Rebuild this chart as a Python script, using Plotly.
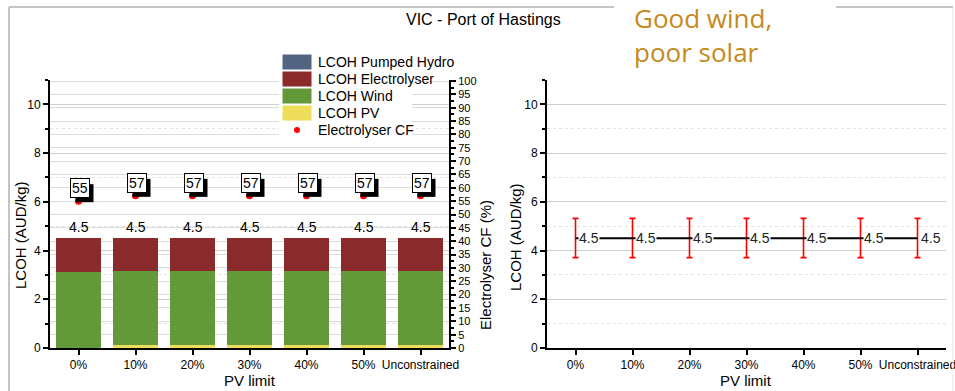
import plotly.graph_objects as go

W, H = 955, 391

# ---- data ----
pv_limits = ["0%", "10%", "20%", "30%", "40%", "50%", "Unconstrained"]
lcoh_pv = [0.0, 0.12, 0.12, 0.12, 0.12, 0.12, 0.12]
lcoh_wind = [3.13, 3.05, 3.05, 3.05, 3.05, 3.05, 3.05]
lcoh_electrolyser = [1.37, 1.33, 1.33, 1.33, 1.33, 1.33, 1.33]
lcoh_pumped_hydro = [0.0, 0.0, 0.0, 0.0, 0.0, 0.0, 0.0]
electrolyser_cf = [55, 57, 57, 57, 57, 57, 57]

lcoh_total = [4.5, 4.5, 4.5, 4.5, 4.5, 4.5, 4.5]
lcoh_err_plus = [0.82, 0.82, 0.82, 0.82, 0.82, 0.82, 0.82]
lcoh_err_minus = [0.79, 0.79, 0.79, 0.79, 0.79, 0.79, 0.79]

# ---- styles ----
FONT = "Liberation Sans, Arial, sans-serif"
C_PH = "#536483"
C_EL = "#8B2A2A"
C_WIND = "#64993A"
C_PV = "#EEDD5A"
C_CF = "#FF0000"


def px(x):
    return x / W


def py(y):
    return 1 - y / H


Y_DOM = [py(348), py(80)]
LEFT_DOM = [px(50), px(449)]
RIGHT_DOM = [px(547), px(946)]

fig = go.Figure()

# stacked LCOH bars
for name, vals, col in [
    ("LCOH PV", lcoh_pv, C_PV),
    ("LCOH Wind", lcoh_wind, C_WIND),
    ("LCOH Electrolyser", lcoh_electrolyser, C_EL),
    ("LCOH Pumped Hydro", lcoh_pumped_hydro, C_PH),
]:
    fig.add_trace(go.Bar(x=pv_limits, y=vals, name=name, marker_color=col,
                         marker_line_width=0, width=0.8, xaxis="x", yaxis="y",
                         showlegend=False))

# electrolyser capacity factor
fig.add_trace(go.Scatter(x=pv_limits, y=electrolyser_cf, mode="markers",
                         marker=dict(color=C_CF, size=7), name="Electrolyser CF",
                         xaxis="x", yaxis="y2", showlegend=False))

# total LCOH with range
fig.add_trace(go.Scatter(
    x=pv_limits, y=lcoh_total, mode="lines", line=dict(color="black", width=2),
    error_y=dict(type="data", symmetric=False, array=lcoh_err_plus,
                 arrayminus=lcoh_err_minus, color=C_CF, thickness=1.6, width=3),
    xaxis="x3", yaxis="y3", showlegend=False))

annotations = []
shapes = []

# totals above bars
for cat, tot in zip(pv_limits, [a + b + c + d for a, b, c, d in zip(
        lcoh_pv, lcoh_wind, lcoh_electrolyser, lcoh_pumped_hydro)]):
    annotations.append(dict(x=cat, y=tot, xref="x", yref="y", text=f"{tot:.1f}",
                            showarrow=False, yanchor="bottom", yshift=1,
                            font=dict(family=FONT, size=14, color="black")))

# CF labels: white tag with a black drop shadow
for i, cf in enumerate(electrolyser_cf):
    shapes.append(dict(type="rect", xref="x", yref="y2",
                       xsizemode="pixel", ysizemode="pixel", xanchor=i, yanchor=cf,
                       x0=-3, x1=15, y0=-1, y1=17, fillcolor="black", line_width=0,
                       layer="above"))
    annotations.append(dict(x=pv_limits[i], y=cf, xref="x", yref="y2", text=f"{cf}",
                            showarrow=False, xshift=1, yshift=13,
                            bgcolor="white", bordercolor="black", borderwidth=1,
                            borderpad=1, font=dict(family=FONT, size=14, color="black")))

# right panel point labels
for cat, tot in zip(pv_limits, lcoh_total):
    annotations.append(dict(x=cat, y=tot, xref="x3", yref="y3", text=f"{tot}",
                            showarrow=False, xanchor="left", xshift=2,
                            bgcolor="white", borderpad=0,
                            font=dict(family=FONT, size=14, color="#222222")))

# titles
annotations.append(dict(x=px(483), y=py(20), xref="paper", yref="paper",
                        text="VIC - Port of Hastings", showarrow=False,
                        xanchor="center", yanchor="middle",
                        font=dict(family=FONT, size=16, color="black")))
annotations.append(dict(x=px(632), y=py(35), xref="paper", yref="paper",
                        text="Good wind,<br>poor solar", showarrow=False,
                        xanchor="left", yanchor="middle", align="left",
                        font=dict(family="Open Sans, sans-serif", size=26, color="#C48A1C")))

# axis titles
for text, xc, yc in [("LCOH (AUD/kg)", 20, 235),
                     ("Electrolyser CF (%)", 485, 265),
                     ("LCOH (AUD/kg)", 515, 237)]:
    annotations.append(dict(x=px(xc), y=py(yc), xref="paper", yref="paper", text=text,
                            textangle=-90, showarrow=False, xanchor="center",
                            yanchor="middle",
                            font=dict(family=FONT, size=15, color="black")))
for xc in (250, 746):
    annotations.append(dict(x=px(xc), y=py(380), xref="paper", yref="paper",
                            text="PV limit", showarrow=False, xanchor="center",
                            yanchor="middle",
                            font=dict(family=FONT, size=15, color="black")))

# legend drawn by hand
legend_rows = [
    ("LCOH Pumped Hydro", C_PH, 62),
    ("LCOH Electrolyser", C_EL, 79),
    ("LCOH Wind", C_WIND, 96),
    ("LCOH PV", C_PV, 113),
    ("Electrolyser CF", None, 130),
]
shapes.append(dict(type="rect", xref="paper", yref="paper", x0=px(279), x1=px(412),
                   y0=py(138), y1=py(53), fillcolor="white", line_width=0, layer="above"))
for label, col, yc in legend_rows:
    if col is not None:
        shapes.append(dict(type="rect", xref="paper", yref="paper",
                           x0=px(282), x1=px(312), y0=py(yc + 8), y1=py(yc - 8),
                           fillcolor=col, line=dict(color="white", width=1), layer="above"))
    else:
        shapes.append(dict(type="circle", xref="paper", yref="paper",
                           x0=px(294), x1=px(300), y0=py(yc + 3), y1=py(yc - 3),
                           fillcolor=C_CF, line_width=0, layer="above"))
    annotations.append(dict(x=px(316), y=py(yc), xref="paper", yref="paper", text=label,
                            showarrow=False, xanchor="left", yanchor="middle",
                            font=dict(family=FONT, size=14, color="black")))

# outer frame
frame = dict(color="#C4C4C4", width=2)
shapes += [
    dict(type="line", xref="paper", yref="paper", x0=px(9), x1=px(9), y0=0, y1=py(7), line=frame),
    dict(type="line", xref="paper", yref="paper", x0=px(9), x1=px(614), y0=py(7), y1=py(7), line=frame),
    dict(type="line", xref="paper", yref="paper", x0=px(836), x1=px(953), y0=py(7), y1=py(7), line=frame),
    dict(type="line", xref="paper", yref="paper", x0=px(953), x1=px(953), y0=0, y1=py(7),
         line=dict(color="#E6E6E6", width=1)),
]

axis_common = dict(showline=True, linecolor="black", linewidth=2, ticks="outside",
                   tickcolor="black", tickwidth=2, ticklen=5, automargin=False,
                   tickfont=dict(family=FONT, size=12, color="black"),
                   zeroline=False)
xcat = dict(type="category", range=[-0.5, 6.5], showgrid=False, **axis_common)
ylcoh = dict(range=[0, 11], tickvals=[0, 2, 4, 6, 8, 10], showgrid=True,
             gridcolor="#CFCFCF", gridwidth=1,
             minor=dict(dtick=1, tick0=0, ticks="outside", ticklen=3, tickcolor="black",
                        tickwidth=2, showgrid=True, gridcolor="#E2E2E2", griddash="dot"),
             **axis_common)

fig.update_layout(
    width=W, height=H,
    margin=dict(l=0, r=0, t=0, b=0),
    paper_bgcolor="white", plot_bgcolor="white",
    barmode="stack", bargap=0.2,
    font=dict(family=FONT, color="black"),
    xaxis=dict(domain=LEFT_DOM, anchor="y", **xcat),
    yaxis=dict(domain=Y_DOM, anchor="x", **ylcoh),
    yaxis2=dict(overlaying="y", side="right", anchor="x", range=[0, 100.4],
                tickvals=list(range(0, 101, 5)), showgrid=True, gridcolor="#DCDCDC",
                minor=dict(dtick=2.5, tick0=0, ticks="outside", ticklen=3,
                           tickcolor="black", tickwidth=2),
                **{**axis_common, "tickfont": dict(family=FONT, size=11, color="black")}),
    xaxis3=dict(domain=RIGHT_DOM, anchor="y3", **xcat),
    yaxis3=dict(domain=Y_DOM, anchor="x3", **ylcoh),
    annotations=annotations,
    shapes=shapes,
)

fig.write_html("out.html")
